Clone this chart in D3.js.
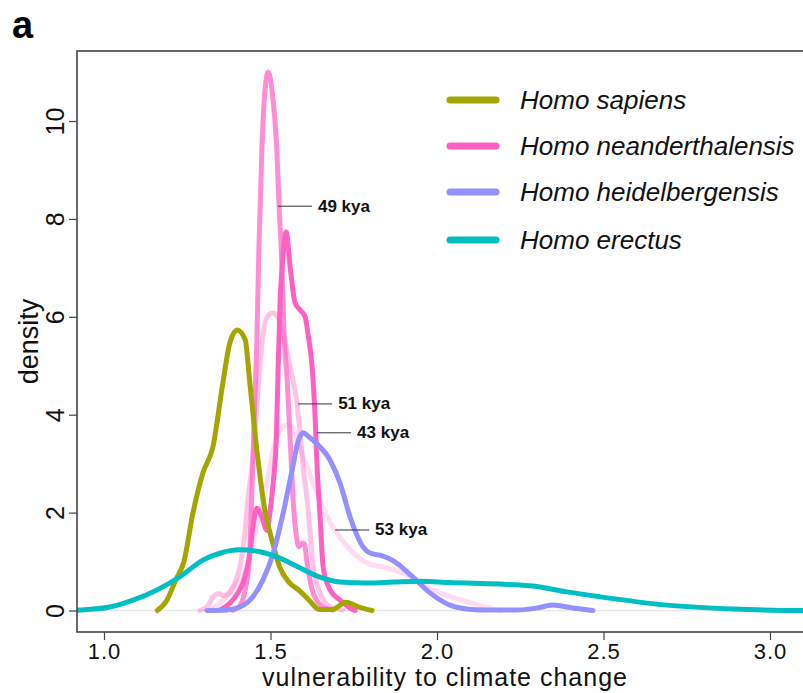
<!DOCTYPE html>
<html>
<head>
<meta charset="utf-8">
<script src="https://cdn.jsdelivr.net/npm/d3@7"></script>
<style>
  html, body { margin: 0; padding: 0; background: #fff; }
  svg { display: block; font-family: "Liberation Sans", Arial, sans-serif; }
</style>
</head>
<body>
<svg id="chart" width="803" height="693"></svg>
<script>
// Kernel density curves of vulnerability to climate change, [x, density] pairs
const sapiens = [[1.16,0],[1.189,0.21],[1.215,0.62],[1.24,1.0],[1.267,1.99],[1.297,2.81],[1.327,3.34],[1.357,4.65],[1.378,5.47],[1.40,5.73],[1.424,5.53],[1.438,4.65],[1.459,3.28],[1.483,2.05],[1.507,1.37],[1.528,0.88],[1.558,0.56],[1.586,0.41],[1.616,0.21],[1.646,0.02],[1.685,0.02],[1.727,0.17],[1.766,0.07],[1.805,0.0]];

const neander43 = [[1.348,0.01],[1.378,0.15],[1.402,0.36],[1.423,0.68],[1.438,1.17],[1.447,1.71],[1.459,2.09],[1.474,1.91],[1.489,1.64],[1.498,1.99],[1.508,2.6],[1.518,3.63],[1.523,4.97],[1.529,6.34],[1.536,7.1],[1.547,7.73],[1.559,7.02],[1.574,6.28],[1.589,6.14],[1.604,6.0],[1.613,5.63],[1.625,4.97],[1.634,3.95],[1.64,2.93],[1.649,1.91],[1.658,0.89],[1.679,0.42],[1.709,0.21],[1.739,0.05],[1.754,0]];

const neander49 = [[1.387,0],[1.408,0.1],[1.425,0.45],[1.436,1.0],[1.444,2.4],[1.453,4.3],[1.459,5.5],[1.465,7.36],[1.474,9.4],[1.482,10.5],[1.493,11.0],[1.505,10.6],[1.519,9.4],[1.526,8.24],[1.534,7.1],[1.541,5.6],[1.55,4.7],[1.559,3.5],[1.568,2.26],[1.578,1.5],[1.586,1.3],[1.595,1.38],[1.602,1.36],[1.61,0.97],[1.628,0.36],[1.658,0.07],[1.688,0.01]];

const neander51 = [[1.288,0],[1.309,0.07],[1.33,0.3],[1.345,0.34],[1.36,0.3],[1.378,0.38],[1.396,0.62],[1.408,0.89],[1.423,1.58],[1.432,2.26],[1.444,2.93],[1.453,3.63],[1.468,4.97],[1.477,5.6],[1.492,6.02],[1.508,6.08],[1.523,5.98],[1.538,5.67],[1.559,4.97],[1.578,4.3],[1.589,3.63],[1.598,2.93],[1.61,2.26],[1.619,1.58],[1.628,0.89],[1.649,0.36],[1.679,0.07],[1.718,0.01]];

const neander53 = [[1.318,0],[1.357,0.21],[1.399,0.56],[1.429,0.89],[1.447,1.38],[1.468,1.99],[1.489,2.6],[1.508,3.28],[1.529,3.69],[1.55,3.79],[1.568,3.73],[1.58,3.48],[1.61,2.93],[1.64,2.4],[1.67,1.91],[1.70,1.58],[1.739,1.24],[1.79,0.97],[1.85,0.87],[1.91,0.73],[1.97,0.48],[2.024,0.32],[2.084,0.19],[2.144,0.07],[2.19,0]];

const heidelbergensis = [[1.309,0],[1.369,0.01],[1.408,0.07],[1.447,0.28],[1.477,0.62],[1.508,1.17],[1.538,1.99],[1.565,2.87],[1.585,3.5],[1.598,3.63],[1.615,3.55],[1.640,3.4],[1.679,3.07],[1.709,2.6],[1.739,1.91],[1.778,1.30],[1.80,1.17],[1.829,1.13],[1.868,1.02],[1.928,0.68],[1.979,0.36],[2.039,0.11],[2.09,0.03],[2.138,0.01],[2.24,0.01],[2.30,0.05],[2.348,0.11],[2.408,0.05],[2.468,0]];

const erectus = [[0.88,0.0],[0.928,0.01],[1.018,0.07],[1.087,0.21],[1.159,0.42],[1.228,0.69],[1.297,1.03],[1.348,1.17],[1.408,1.24],[1.468,1.20],[1.528,1.07],[1.589,0.87],[1.649,0.68],[1.709,0.58],[1.79,0.56],[1.868,0.58],[1.949,0.60],[2.039,0.57],[2.189,0.54],[2.288,0.50],[2.39,0.38],[2.489,0.28],[2.69,0.11],[2.889,0.03],[3.1,0.0],[3.2,0.0]];

const xTicks = [1.0, 1.5, 2.0, 2.5, 3.0];
const yTicks = [0, 2, 4, 6, 8, 10];

const legendNames = ["Homo sapiens", "Homo neanderthalensis", "Homo heidelbergensis", "Homo erectus"];
const legendColors = ["#A3A500", "#FF61C3", "#9590FF", "#00BFC4"];

// Neanderthal curves by date; drawn lightest first
const neanderCurves = [
  { label: "53 kya", data: neander53, opacity: 0.22 },
  { label: "51 kya", data: neander51, opacity: 0.38 },
  { label: "49 kya", data: neander49, opacity: 0.72 },
  { label: "43 kya", data: neander43, opacity: 1.0 }
];

// Date labels with the point on the curve they point to [x, density]
const dateLabels = [
  { label: "49 kya", at: [1.5225, 8.26] },
  { label: "51 kya", at: [1.583, 4.22] },
  { label: "43 kya", at: [1.64, 3.63] },
  { label: "53 kya", at: [1.694, 1.645] }
];

const svg = d3.select("#chart");
const plot = { left: 77, top: 51, right: 840, bottom: 632 };

const x = d3.scaleLinear().domain([1, 3]).range([104, 770]);
const y = d3.scaleLinear().domain([0, 10]).range([610.5, 121]);

svg.append("defs").append("clipPath").attr("id", "plotClip")
  .append("rect")
  .attr("x", plot.left).attr("y", plot.top)
  .attr("width", plot.right - plot.left).attr("height", plot.bottom - plot.top);

// Zero reference line
svg.append("line")
  .attr("x1", plot.left).attr("x2", plot.right)
  .attr("y1", y(0)).attr("y2", y(0))
  .attr("stroke", "#e8e8e8").attr("stroke-width", 1.5);

const line = d3.line()
  .x(d => x(d[0])).y(d => y(d[1]))
  .curve(d3.curveMonotoneX);

const curves = svg.append("g").attr("clip-path", "url(#plotClip)");

function drawCurve(data, color, opacity) {
  curves.append("path")
    .datum(data)
    .attr("d", line)
    .attr("fill", "none")
    .attr("stroke", color)
    .attr("stroke-opacity", opacity)
    .attr("stroke-width", 5)
    .attr("stroke-linecap", "round")
    .attr("stroke-linejoin", "round");
}

neanderCurves.forEach(c => drawCurve(c.data, legendColors[1], c.opacity));
drawCurve(sapiens, legendColors[0], 1);
drawCurve(heidelbergensis, legendColors[2], 1);
drawCurve(erectus, legendColors[3], 1);

// Plot frame
svg.append("rect")
  .attr("x", plot.left).attr("y", plot.top)
  .attr("width", plot.right - plot.left).attr("height", plot.bottom - plot.top)
  .attr("fill", "none").attr("stroke", "#444").attr("stroke-width", 1.6);

// Axes
const xAxis = d3.axisBottom(x).tickValues(xTicks).tickFormat(d3.format(".1f"))
  .tickSize(8).tickPadding(3);
const gx = svg.append("g").attr("transform", `translate(0,${plot.bottom})`).call(xAxis);
gx.select(".domain").remove();
gx.selectAll(".tick line").attr("stroke", "#444").attr("stroke-width", 1.2);
gx.selectAll(".tick text").attr("font-size", 22).attr("fill", "#111")
  .attr("letter-spacing", 1)
  .attr("font-family", "Liberation Sans, Arial, sans-serif");

const yAxis = d3.axisLeft(y).tickValues(yTicks).tickSize(8).tickPadding(6);
const gy = svg.append("g").attr("transform", `translate(${plot.left},0)`).call(yAxis);
gy.select(".domain").remove();
gy.selectAll(".tick line").attr("stroke", "#444").attr("stroke-width", 1.2);
gy.selectAll(".tick text")
  .attr("font-size", 25).attr("fill", "#111")
  .attr("font-family", "Liberation Sans, Arial, sans-serif")
  .attr("x", null).attr("dy", null)
  .attr("text-anchor", "middle")
  .attr("transform", "translate(-22,0) rotate(-90)")
  .attr("dominant-baseline", "central");

// Axis titles
svg.append("text")
  .attr("x", 445).attr("y", 686)
  .attr("text-anchor", "middle").attr("font-size", 25).attr("fill", "#111")
  .attr("letter-spacing", 1)
  .text("vulnerability to climate change");

svg.append("text")
  .attr("transform", `translate(29,${(plot.top + plot.bottom) / 2}) rotate(-90)`)
  .attr("text-anchor", "middle").attr("dominant-baseline", "central")
  .attr("font-size", 27).attr("fill", "#111")
  .text("density");

// Panel letter
svg.append("text")
  .attr("x", 12).attr("y", 38)
  .attr("font-size", 38).attr("font-weight", "bold").attr("fill", "#000")
  .text("a");

// Date labels with leader lines
dateLabels.forEach(a => {
  const px = x(a.at[0]), py = y(a.at[1]);
  svg.append("line")
    .attr("x1", px).attr("x2", px + 34)
    .attr("y1", py).attr("y2", py)
    .attr("stroke", "#333").attr("stroke-width", 1);
  svg.append("text")
    .attr("x", px + 40).attr("y", py)
    .attr("dominant-baseline", "central")
    .attr("font-size", 17).attr("font-weight", "bold").attr("fill", "#111")
    .text(a.label);
});

// Legend
const legendY = [100, 146, 192, 240];
const legend = svg.append("g");
legendNames.forEach((name, i) => {
  legend.append("line")
    .attr("x1", 450).attr("x2", 496)
    .attr("y1", legendY[i]).attr("y2", legendY[i])
    .attr("stroke", legendColors[i]).attr("stroke-width", 7)
    .attr("stroke-linecap", "round");
  legend.append("text")
    .attr("x", 520).attr("y", legendY[i])
    .attr("dominant-baseline", "central")
    .attr("font-size", 26).attr("font-style", "italic").attr("fill", "#111")
    .text(name);
});
</script>
</body>
</html>
